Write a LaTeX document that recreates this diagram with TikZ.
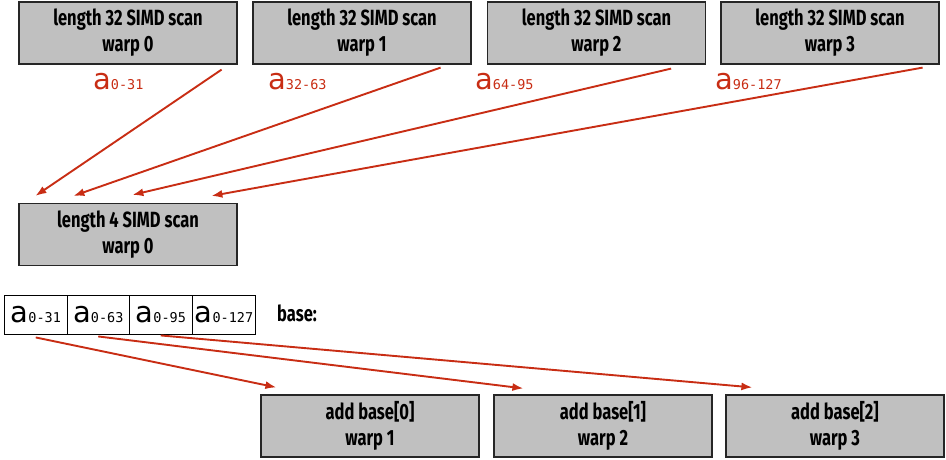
\documentclass[tikz,border=0pt]{standalone}
\usepackage{fontspec}
\usetikzlibrary{arrows.meta}
\newfontfamily\boxfont[FakeStretch=0.75]{Fira Sans}
\newfontfamily\afont{DejaVu Sans}
\newfontfamily\subfont{DejaVu Sans Mono}
\definecolor{arrowred}{RGB}{200,45,20}
\definecolor{boxgray}{RGB}{192,192,192}
\newcommand{\alab}[1]{{\afont\fontsize{29}{29}\selectfont a}{\subfont\fontsize{13.5}{14}\selectfont #1}}

\begin{document}
\begin{tikzpicture}[x=1pt,y=-1pt]
	% `warpbox' is used for all grey boxes.
	% `cell' is used for the base array.
	\tikzstyle{warpbox} = [draw=black!85,fill=boxgray,line width=1.2pt,minimum width=218pt,minimum height=62pt,align=center,font=\boxfont\bfseries\fontsize{22}{26}\selectfont]
	\tikzstyle{cell} = [draw=black,line width=0.9pt,minimum width=62.5pt,minimum height=39pt,inner sep=0pt]
	\tikzstyle{redarrow} = [draw=arrowred,line width=1.9pt,-{Latex[length=11pt,width=8pt]}]
	\useasboundingbox (0,0) rectangle (946,460);
	%
	% First row.
	\node[warpbox] (s0) at (128,33) {length 32 SIMD scan\\warp 0};
	\node[warpbox] (s1) at (362,33) {length 32 SIMD scan\\warp 1};
	\node[warpbox] (s2) at (596.5,33) {length 32 SIMD scan\\warp 2};
	\node[warpbox] (s3) at (830,33) {length 32 SIMD scan\\warp 3};
	\node[anchor=base west,inner sep=0pt,text=arrowred] (l0) at (93,90) {\alab{0-31}};
	\node[anchor=base west,inner sep=0pt,text=arrowred] (l1) at (268,90) {\alab{32-63}};
	\node[anchor=base west,inner sep=0pt,text=arrowred] (l2) at (475,90) {\alab{64-95}};
	\node[anchor=base west,inner sep=0pt,text=arrowred] (l3) at (715,90) {\alab{96-127}};
	% Second row.
	\node[warpbox] (m0) at (128,234.5) {length 4 SIMD scan\\warp 0};
	% Base array.
	\node[cell] (c0) at (35.75,314.5) {\alab{0-31}};
	\node[cell] (c1) at (98.25,314.5) {\alab{0-63}};
	\node[cell] (c2) at (160.75,314.5) {\alab{0-95}};
	\node[cell] (c3) at (224,314.5) {\alab{0-127}};
	\node[font=\boxfont\bfseries\fontsize{22}{26}\selectfont] (base) at (297,313) {base:};
	% Third row.
	\node[warpbox] (b0) at (370,426) {add base[0]\\warp 1};
	\node[warpbox] (b1) at (603,426) {add base[1]\\warp 2};
	\node[warpbox] (b2) at (835,426) {add base[2]\\warp 3};
	% Draw arrows.
	\draw[redarrow] ([xshift=-16pt,yshift=-5pt]s0.south east) -- ([xshift=17pt,yshift=7pt]m0.north west);
	\draw[redarrow] ([xshift=-31pt,yshift=-3pt]s1.south east) -- ([xshift=55pt,yshift=7pt]m0.north west);
	\draw[redarrow] ([xshift=-35pt,yshift=-4pt]s2.south east) -- ([xshift=114pt,yshift=8pt]m0.north west);
	\draw[redarrow] ([xshift=-17pt,yshift=-3pt]s3.south east) -- ([xshift=193pt,yshift=7pt]m0.north west);
	\draw[redarrow] ([yshift=-3pt]c0.south) -- ([xshift=16pt,yshift=7pt]b0.north west);
	\draw[redarrow] ([yshift=-2pt]c1.south) -- ([xshift=30pt,yshift=6pt]b1.north west);
	\draw[redarrow] ([yshift=-1pt]c2.south) -- ([xshift=27pt,yshift=7pt]b2.north west);
%
\end{tikzpicture}
\end{document}
